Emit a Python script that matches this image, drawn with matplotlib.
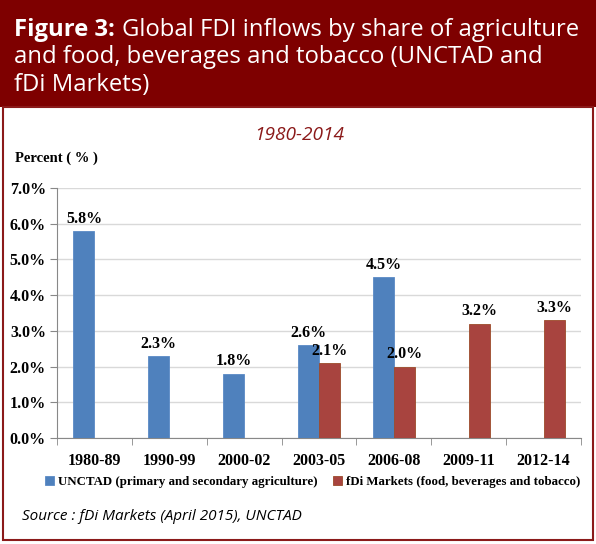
import numpy as np
import matplotlib.pyplot as plt
from matplotlib.patches import Rectangle

periods = ['1980-89', '1990-99', '2000-02', '2003-05', '2006-08', '2009-11', '2012-14']
unctad = [5.8, 2.3, 1.8, 2.6, 4.5, np.nan, np.nan]
fdi = [np.nan, np.nan, np.nan, 2.1, 2.0, 3.2, 3.3]
yticks = [0, 1, 2, 3, 4, 5, 6, 7]

blue = '#4F81BD'
red = '#A8443F'
banner = '#7E0000'
serif = 'Liberation Serif'
sans = 'Open Sans'

fig = plt.figure(figsize=(5.96, 5.44), dpi=100)
W, H = 596, 544

# banner + frame
fig.patches.append(Rectangle((0, 1 - 107 / H), 1, 107 / H, transform=fig.transFigure,
                             facecolor=banner, edgecolor='none', zorder=0))
fig.patches.append(Rectangle((3 / W, 4 / H), 590 / W, (H - 107 - 4) / H, transform=fig.transFigure,
                             facecolor='none', edgecolor='#8B1A1A', lw=1.5, zorder=0))

tsize = 17.2
t1 = fig.text(14 / W, 1 - 30 / H, r'Figure 3:', color='white', fontsize=tsize,
              fontweight='bold', family=sans, va='center')
fig.canvas.draw()
bb = t1.get_window_extent()
fig.text(bb.x1 + 7, bb.y0, 'Global FDI inflows by share of agriculture', color='white',
         fontsize=tsize, family=sans, va='bottom', transform=None)
fig.text(14 / W, 1 - 57 / H, 'and food, beverages and tobacco (UNCTAD and', color='white',
         fontsize=tsize, family=sans, va='center')
fig.text(14 / W, 1 - 85 / H, 'fDi Markets)', color='white', fontsize=tsize, family=sans, va='center')

fig.text(299 / W, 1 - 135 / H, '1980-2014', color='#8B1A1A', fontsize=13.8, style='italic',
         family=sans, ha='center', va='center')
fig.text(15 / W, 1 - 158 / H, 'Percent ( % )', fontsize=10.5, fontweight='bold', family=serif,
         va='center')

ax = fig.add_axes([57 / W, (H - 438) / H, (581 - 57) / W, (438 - 188) / H])
x = np.arange(len(periods))
w = 0.28
b1 = ax.bar(x - w / 2, unctad, w, color=blue, edgecolor='#5A8AC6', lw=0.6, zorder=3,
            label='UNCTAD (primary and secondary agriculture)')
b2 = ax.bar(x + w / 2, fdi, w, color=red, edgecolor='#9C4A2A', lw=0.6, zorder=3,
            label='fDi Markets (food, beverages and tobacco)')
for bars, vals in [(b1, unctad), (b2, fdi)]:
    for r, v in zip(bars, vals):
        if np.isnan(v):
            continue
        ax.text(r.get_x() + r.get_width() / 2, v + 0.12, '%.1f%%' % v, ha='center', va='bottom',
                fontsize=11.5, fontweight='bold', family=serif)

ax.set_xlim(-0.5, len(periods) - 0.5)
ax.set_ylim(0, 7)
ax.set_yticks(yticks)
ax.set_yticklabels(['%.1f%%' % t for t in yticks], fontsize=11.5, fontweight='bold', family=serif)
ax.set_xticks(x)
ax.set_xticklabels(periods, fontsize=11.5, fontweight='bold', family=serif)
ax.set_xticks(np.arange(len(periods) + 1) - 0.5, minor=True)
ax.tick_params(axis='x', which='major', length=0, pad=11)
ax.tick_params(axis='x', which='minor', length=5, color='#888888')
ax.tick_params(axis='y', length=5, color='#888888', pad=3)
ax.grid(axis='y', color='#D9D9D9', lw=1, zorder=0)
for s in ['top', 'right']:
    ax.spines[s].set_visible(False)
ax.spines['left'].set_color('#888888')
ax.spines['bottom'].set_color('#888888')

ax.legend(loc='center', bbox_to_anchor=((313 - 57) / (581 - 57), -(482 - 438) / (438 - 188)),
          ncol=2, frameon=False,
          prop={'family': serif, 'weight': 'bold', 'size': 9.3}, handlelength=0.7,
          handleheight=0.7, handletextpad=0.3, columnspacing=1.2, borderpad=0)

fig.text(22 / W, 1 - 516 / H, 'Source : fDi Markets (April 2015), UNCTAD', fontsize=11,
         style='italic', family=sans, va='center')

fig.savefig('out.png', dpi=100)
